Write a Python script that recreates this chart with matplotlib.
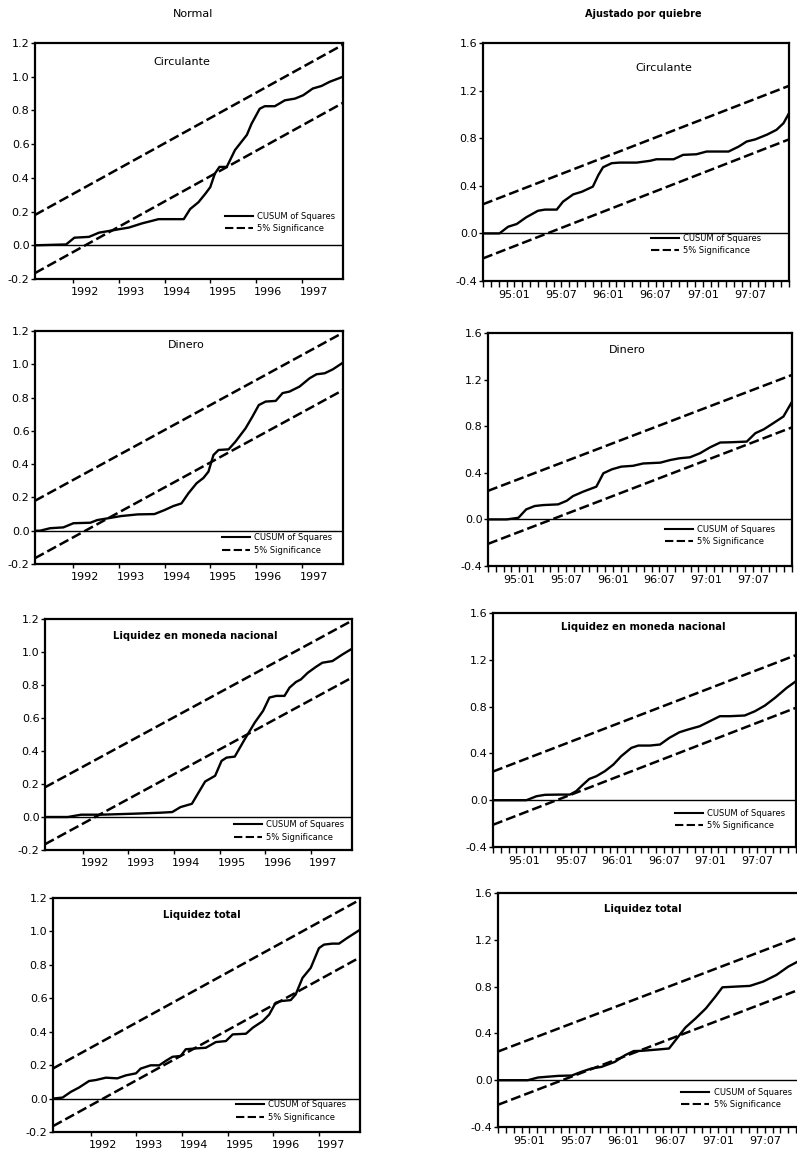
import matplotlib
matplotlib.use("Agg")
import matplotlib.pyplot as plt
from matplotlib.ticker import FixedLocator, NullFormatter

plt.rcParams["font.family"] = ["DejaVu Sans"]

col_titles = ["Normal", "Ajustado por quiebre"]
panel_titles = ["Circulante", "Dinero", "Liquidez en moneda nacional", "Liquidez total"]

# left column: x in decimal years, sample 1991:03 - 1997:11
left_x = [
    [1991.17, 1991.85, 1992.03, 1992.35, 1992.57, 1992.79, 1993.0, 1993.22, 1993.51, 1993.87,
     1994.42, 1994.56, 1994.74, 1994.89, 1995.0, 1995.1, 1995.2, 1995.36, 1995.54, 1995.8,
     1995.9, 1996.08, 1996.19, 1996.41, 1996.63, 1996.85, 1997.03, 1997.24, 1997.43, 1997.61, 1997.9],
    [1991.17, 1991.28, 1991.5, 1991.79, 1992.01, 1992.38, 1992.53, 1992.75, 1993.05, 1993.41,
     1993.78, 1994.0, 1994.19, 1994.37, 1994.52, 1994.7, 1994.85, 1994.96, 1995.07, 1995.18,
     1995.4, 1995.55, 1995.77, 1995.92, 1996.06, 1996.21, 1996.43, 1996.58, 1996.73, 1996.95,
     1997.17, 1997.32, 1997.5, 1997.68, 1997.9],
    [1991.17, 1991.67, 1991.96, 1992.4, 1993.12, 1993.7, 1993.96, 1994.14, 1994.39, 1994.54,
     1994.68, 1994.9, 1995.04, 1995.15, 1995.33, 1995.55, 1995.77, 1995.95, 1996.09, 1996.24,
     1996.42, 1996.53, 1996.67, 1996.78, 1996.93, 1997.11, 1997.25, 1997.47, 1997.69, 1997.9],
    [1991.17, 1991.38, 1991.56, 1991.74, 1991.96, 1992.11, 1992.33, 1992.58, 1992.77, 1992.99,
     1993.09, 1993.31, 1993.5, 1993.64, 1993.79, 1993.97, 1994.08, 1994.3, 1994.52, 1994.74,
     1994.96, 1995.11, 1995.4, 1995.55, 1995.77, 1995.91, 1996.05, 1996.16, 1996.38, 1996.49,
     1996.64, 1996.82, 1997.0, 1997.11, 1997.29, 1997.44, 1997.62, 1997.9],
]
left_y = [
    [0.0, 0.005, 0.045, 0.05, 0.075, 0.085, 0.095, 0.105, 0.13, 0.155,
     0.155, 0.215, 0.255, 0.305, 0.345, 0.425, 0.465, 0.465, 0.565, 0.655,
     0.72, 0.81, 0.825, 0.825, 0.86, 0.87, 0.89, 0.93, 0.945, 0.97, 1.0],
    [0.0, 0.0, 0.015, 0.02, 0.045, 0.048, 0.064, 0.074, 0.088, 0.098,
     0.1, 0.124, 0.148, 0.164, 0.224, 0.285, 0.317, 0.355, 0.455, 0.485,
     0.489, 0.535, 0.615, 0.685, 0.755, 0.776, 0.78, 0.827, 0.836, 0.866,
     0.916, 0.94, 0.946, 0.97, 1.01],
    [0.0, 0.0, 0.014, 0.014, 0.02, 0.026, 0.03, 0.06, 0.08, 0.15,
     0.215, 0.25, 0.34, 0.36, 0.366, 0.472, 0.573, 0.643, 0.724, 0.734,
     0.734, 0.784, 0.818, 0.834, 0.874, 0.91, 0.935, 0.945, 0.985, 1.02],
    [0.0, 0.006, 0.04, 0.066, 0.105, 0.111, 0.125, 0.121, 0.139, 0.151,
     0.179, 0.199, 0.199, 0.225, 0.25, 0.255, 0.295, 0.3, 0.304, 0.338,
     0.344, 0.384, 0.388, 0.424, 0.464, 0.503, 0.573, 0.583, 0.589, 0.623,
     0.722, 0.782, 0.9, 0.921, 0.927, 0.927, 0.961, 1.01],
]
left_upper = [0.18, 1.19]
left_lower = [-0.165, 0.845]

# right column: x in months since 1994:09 (0) to 1997:12 (39)
right_x = [
    [0, 2.1, 3.2, 4.3, 5.5, 7.0, 7.9, 9.4, 10.2, 11.5, 12.6, 14.0, 14.7, 15.3, 16.4, 17.4,
     19.6, 21.3, 22.1, 24.3, 25.5, 27.2, 28.5, 31.3, 32.6, 33.6, 34.7, 36.2, 37.4, 38.3, 39],
    [0, 2.4, 3.9, 4.9, 6.0, 7.1, 9.0, 10.1, 10.9, 12.2, 13.9, 14.8, 15.9, 17.1, 18.6, 19.9,
     22.1, 23.4, 24.6, 25.9, 27.2, 28.5, 29.8, 31.1, 33.2, 34.3, 35.4, 36.6, 37.9, 39],
    [0, 4.3, 5.6, 6.7, 8.6, 9.9, 10.7, 11.6, 12.4, 13.3, 14.4, 15.5, 16.5, 17.8, 18.7, 20.2,
     21.5, 22.7, 24.0, 25.1, 26.6, 27.9, 29.2, 30.5, 32.4, 33.7, 35.0, 36.3, 37.8, 39],
    [0, 3.8, 5.1, 6.2, 7.7, 9.4, 10.6, 11.9, 13.2, 14.9, 16.2, 17.3, 18.3, 20.5, 21.8, 22.8,
     23.9, 25.2, 26.5, 27.7, 28.6, 30.3, 32.1, 33.8, 35.5, 37.0, 38.1, 39],
]
right_y = [
    [0.0, 0.0, 0.056, 0.079, 0.135, 0.19, 0.2, 0.2, 0.267, 0.328, 0.35, 0.393, 0.49, 0.556, 0.59, 0.595,
     0.595, 0.61, 0.623, 0.623, 0.66, 0.665, 0.688, 0.688, 0.73, 0.772, 0.79, 0.83, 0.87, 0.926, 1.01],
    [0.0, 0.0, 0.014, 0.086, 0.115, 0.123, 0.129, 0.16, 0.2, 0.238, 0.281, 0.396, 0.43, 0.453, 0.46, 0.48,
     0.487, 0.51, 0.525, 0.533, 0.568, 0.619, 0.66, 0.662, 0.668, 0.74, 0.774, 0.826, 0.883, 1.01],
    [0.0, 0.0, 0.034, 0.046, 0.048, 0.048, 0.077, 0.134, 0.182, 0.205, 0.248, 0.305, 0.376, 0.447, 0.467, 0.467,
     0.476, 0.533, 0.581, 0.604, 0.632, 0.675, 0.718, 0.718, 0.724, 0.76, 0.809, 0.875, 0.96, 1.017],
    [0.0, 0.0, 0.023, 0.029, 0.037, 0.04, 0.071, 0.1, 0.114, 0.157, 0.214, 0.249, 0.251, 0.263, 0.271, 0.357,
     0.451, 0.529, 0.614, 0.714, 0.794, 0.8, 0.806, 0.843, 0.9, 0.971, 1.01, 1.05],
]
right_upper = [0.245, 1.24]
right_lower = [-0.21, 0.79]
right_tick_pos = [4, 10, 16, 22, 28, 34]
right_tick_labels = ["95:01", "95:07", "96:01", "96:07", "97:01", "97:07"]
year_ticks = [1992, 1993, 1994, 1995, 1996, 1997]

# ---- layout (pixel boxes from the scan: x0, x1, ytop, ybottom) ----
W, H = 797, 1157
left_boxes = [(35, 343, 43, 279), (35, 343, 331, 564), (45, 352, 619, 850), (53, 360, 898, 1132)]
right_boxes = [(483, 789, 43, 281), (488, 792, 333, 566), (493, 796, 613, 847), (498, 804, 893, 1127)]
left_title_pos = [(0.477, 0.92), (0.49, 0.94), (0.49, 0.926), (0.485, 0.927)]
right_title_pos = [(0.59, 0.895), (0.457, 0.927), (0.495, 0.94), (0.474, 0.93)]
left_leg_pos = [(0.975, 0.24), (0.965, 0.086), (0.975, 0.082), (0.955, 0.09)]
right_leg_pos = [(0.91, 0.153), (0.945, 0.131), (0.965, 0.118), (0.96, 0.122)]
title_bold = [False, False, True, True]

fig = plt.figure(figsize=(W / 100, H / 100), dpi=100)


def add_panel(box, xs, ys, xlim, ylim, upper, lower, title, tpos, lpos, bold):
    x0, x1, yt, yb = box
    ax = fig.add_axes([x0 / W, 1 - yb / H, (x1 - x0) / W, (yb - yt) / H])
    ax.plot(xs, ys, color="black", lw=1.7, solid_joinstyle="round",
            label="CUSUM of Squares")
    ax.plot(xlim, upper, color="black", lw=1.8, dashes=(4, 1.6),
            label="5% Significance")
    ax.plot(xlim, lower, color="black", lw=1.8, dashes=(4, 1.6))
    ax.axhline(0, color="black", lw=1.0)
    ax.set_xlim(xlim)
    ax.set_ylim(ylim)
    for s in ax.spines.values():
        s.set_linewidth(1.6)
    ax.text(tpos[0], tpos[1], title, transform=ax.transAxes, ha="center", va="center",
            fontsize=7.2 if bold else 8, fontweight="bold" if bold else "normal")
    leg = ax.legend(loc="center right", bbox_to_anchor=lpos, frameon=False, fontsize=6,
                    handlelength=3.4, handletextpad=0.5, labelspacing=0.4, borderpad=0,
                    borderaxespad=0)
    for h in leg.get_lines():
        h.set_linewidth(1.5)
    ax.tick_params(axis="y", direction="out", length=3, width=1, labelsize=8, pad=1)
    return ax


for i in range(4):
    # left column
    ax = add_panel(left_boxes[i], left_x[i], left_y[i], [1991.17, 1997.9], (-0.2, 1.2),
                   left_upper, left_lower, panel_titles[i], left_title_pos[i],
                   left_leg_pos[i], title_bold[i])
    ax.set_yticks([-0.2, 0.0, 0.2, 0.4, 0.6, 0.8, 1.0, 1.2])
    ax.set_yticklabels(["-0.2", "0.0", "0.2", "0.4", "0.6", "0.8", "1.0", "1.2"])
    ax.xaxis.set_major_locator(FixedLocator(year_ticks))
    ax.xaxis.set_major_formatter(NullFormatter())
    ax.xaxis.set_minor_locator(FixedLocator([y + 0.27 for y in year_ticks]))
    ax.set_xticklabels([str(y) for y in year_ticks], minor=True)
    ax.tick_params(axis="x", which="major", direction="out", length=3, width=1)
    ax.tick_params(axis="x", which="minor", length=0, labelsize=8, pad=6)

    # right column
    ax = add_panel(right_boxes[i], right_x[i], right_y[i], [0, 39], (-0.4, 1.6),
                   right_upper, right_lower, panel_titles[i], right_title_pos[i],
                   right_leg_pos[i], title_bold[i])
    ax.set_yticks([-0.4, 0.0, 0.4, 0.8, 1.2, 1.6])
    ax.set_yticklabels(["-0.4", "0.0", "0.4", "0.8", "1.2", "1.6"])
    ax.set_xticks(right_tick_pos)
    ax.set_xticklabels(right_tick_labels)
    ax.set_xticks(list(range(0, 40)), minor=True)
    ax.tick_params(axis="x", which="both", direction="out", length=4, width=1,
                   labelsize=8, pad=2.5)

fig.text(193 / W, 1 - 14 / H, col_titles[0], ha="center", va="center", fontsize=8)
fig.text(643 / W, 1 - 14 / H, col_titles[1], ha="center", va="center", fontsize=7,
         fontweight="bold")

fig.savefig("out.png", dpi=100)
